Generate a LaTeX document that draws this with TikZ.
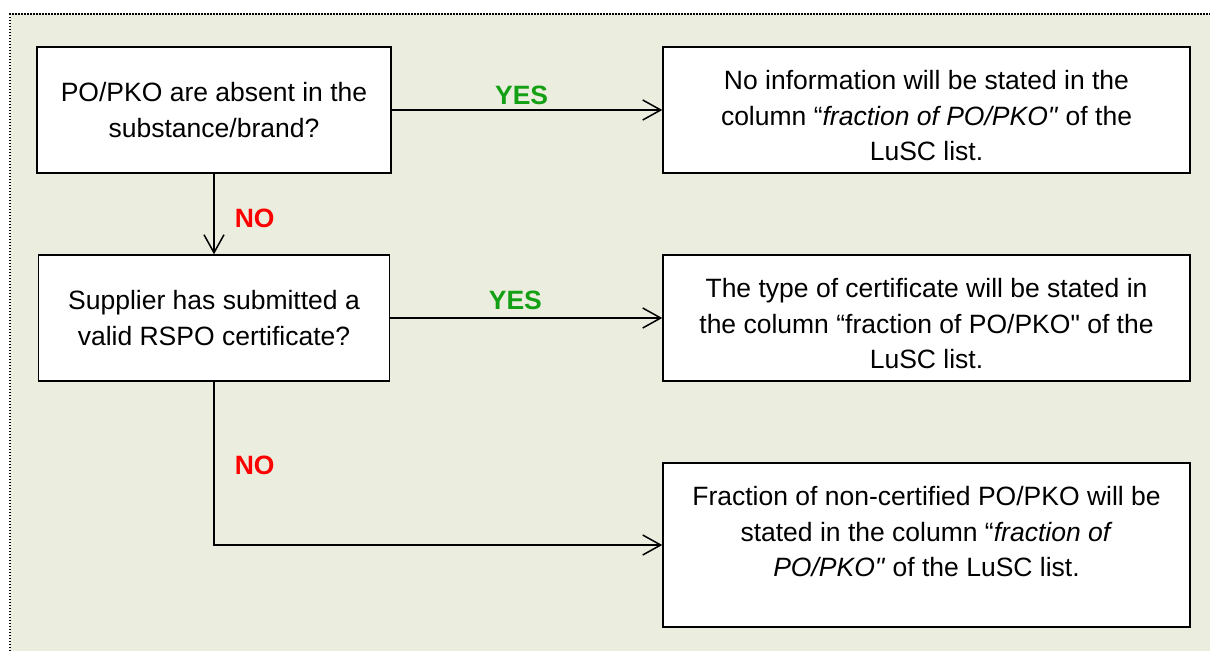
\documentclass[tikz,border=0pt]{standalone}
\usepackage{fontspec}
\setmainfont{Liberation Sans}[Ligatures=TeXOff]
\usepackage{xcolor}
\usetikzlibrary{arrows.meta,positioning,calc}
\definecolor{panel}{RGB}{235,238,222}
\definecolor{yesgreen}{RGB}{20,160,20}
\definecolor{nored}{RGB}{255,0,0}

\begin{document}
\begin{tikzpicture}[x=1pt, y=-1pt,
    box/.style={draw, line width=1.5pt, fill=white, minimum width=527pt,
                minimum height=126pt, inner sep=0pt, align=center,
                font=\fontsize{26.5}{36}\selectfont},
    boxtext/.style={inner sep=0pt, align=center,
                font=\fontsize{26.5}{35.5}\selectfont},
    arr/.style={-{Straight Barb[length=18pt,width=20pt]}, line width=1.5pt},
    yes/.style={text=yesgreen, inner sep=0pt, font=\fontsize{26.5}{32}\selectfont\bfseries},
    no/.style={text=nored, inner sep=0pt, font=\fontsize{26.5}{32}\selectfont\bfseries},
  ]
  \useasboundingbox (0,0) rectangle (1210,651);
  % Panel
  \fill[panel] (10,14) rectangle (1210,651);
  \draw[line width=1.5pt, dash pattern=on 1.5pt off 1.5pt] (10,651) -- (10,14) -- (1210,14);

  % Questions
  \node[box, minimum width=354pt] (q1) at (214,110)
    {PO/PKO are absent in the\\substance/brand?};
  \node[box, minimum width=351pt] (q2) at (214,318)
    {Supplier has submitted a\\valid RSPO certificate?};

  % Results
  \node[box] (r1) at (926.5,110) {};
  \node[box] (r2) at (926.5,318) {};
  \node[box, minimum height=164pt] (r3) at (926.5,545) {};
  \node[boxtext] (r1txt) at ($(r1.center)+(0,6)$)
    {No information will be stated in the\\column “\textit{fraction of PO/PKO"} of the\\LuSC list.};
  \node[boxtext] (r2txt) at ($(r2.center)+(0,6)$)
    {The type of certificate will be stated in\\the column “fraction of PO/PKO" of the\\LuSC list.};
  \node[boxtext] (r3txt) at ($(r3.center)+(0,-13)$)
    {Fraction of non-certified PO/PKO will be\\stated in the column “\textit{fraction of}\\\textit{PO/PKO"} of the LuSC list.};

  % Arrows
  \draw[arr] (q1) -- node[yes, pos=0.48, above=4pt] {YES} (r1);
  \draw[arr] (q2) -- node[yes, pos=0.46, above=7pt] {YES} (r2);
  \draw[arr] (q1) -- node[no, right=20pt, yshift=-4pt] {NO} (q2);
  \draw[arr] (q2.south) |- node[no, pos=0.25, right=20pt, yshift=-2pt] {NO} (r3.west);
\end{tikzpicture}
\end{document}
